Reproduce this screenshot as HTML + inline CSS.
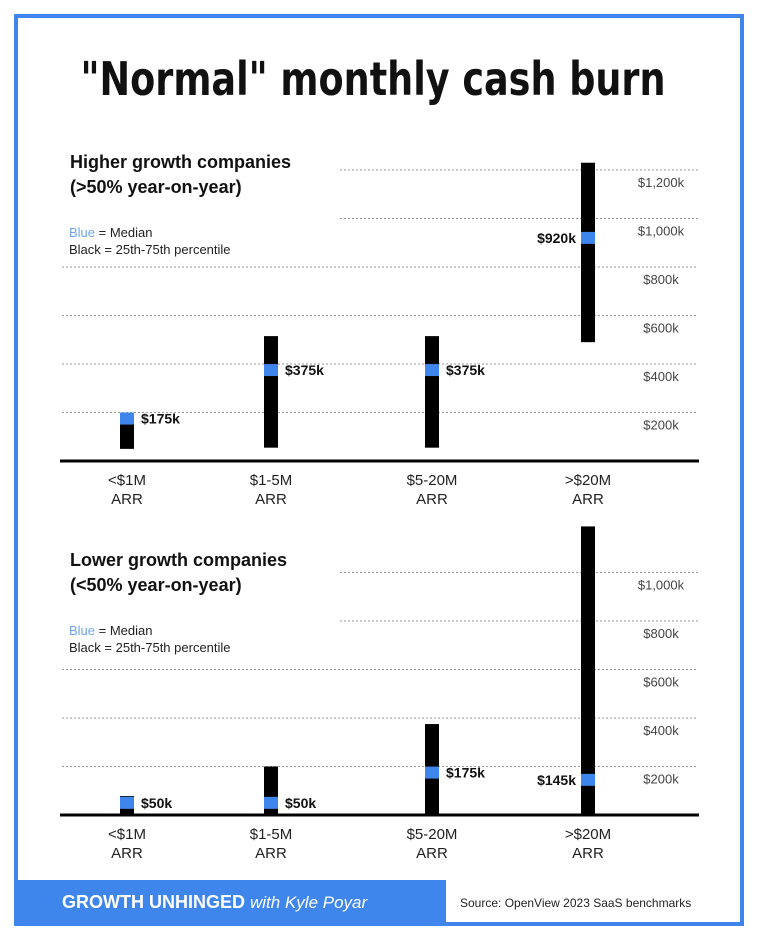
<!DOCTYPE html>
<html><head><meta charset="utf-8"><style>
body{margin:0;background:#fff;}
svg{display:block;font-family:"Liberation Sans",sans-serif;}
</style></head><body>
<svg id="c" width="758" height="952" viewBox="0 0 758 952">
<rect x="16" y="16" width="726" height="908" fill="#fff" stroke="#3f86ec" stroke-width="4"/>
<text x="373" y="95" text-anchor="middle" font-size="46" font-weight="bold" font-family="'DejaVu Sans',sans-serif" fill="#111" textLength="585" lengthAdjust="spacingAndGlyphs">"Normal" monthly cash burn</text>
<g id="top"></g><g id="bot"></g>
<rect x="16" y="880" width="430" height="46" fill="#3f86ec"/>
<text x="62" y="908" fill="#fff" font-size="18" font-weight="bold">GROWTH UNHINGED <tspan font-weight="normal" font-style="italic" font-size="17">with Kyle Poyar</tspan></text>
<text x="460" y="907" font-size="12" fill="#222">Source: OpenView 2023 SaaS benchmarks</text>
</svg>
<script>
const categories=["<$1M","$1-5M","$5-20M",">$20M"];
const hiLow=[50,55,55,490];
const hiHigh=[185,515,515,1230];
const hiMedian=[175,375,375,920];
const hiLabels=["$175k","$375k","$375k","$920k"];
const hiTicks=[200,400,600,800,1000,1200];
const hiTickLabels=["$200k","$400k","$600k","$800k","$1,000k","$1,200k"];
const loLow=[0,0,0,0];
const loHigh=[78,200,375,1190];
const loMedian=[50,50,175,145];
const loLabels=["$50k","$50k","$175k","$145k"];
const loTicks=[200,400,600,800,1000];
const loTickLabels=["$200k","$400k","$600k","$800k","$1,000k"];
const NS="http://www.w3.org/2000/svg";
const barX=[127,271,432,588];
function el(p,t,a){const e=document.createElementNS(NS,t);for(const k in a)e.setAttribute(k,a[k]);p.appendChild(e);return e;}
function panel(g,base,title1,title2,titleY,low,high,med,labels,ticks,tickLabels,labelLeft){
  const y=v=>base-v*0.2425;
  const t1=el(g,'text',{x:70,y:titleY,'font-size':18,'font-weight':'bold',fill:'#111'});t1.textContent=title1;
  
  
  const t2=el(g,'text',{x:70,y:titleY+25,'font-size':18,'font-weight':'bold',fill:'#111'});t2.textContent=title2;
  
  
  const l1=el(g,'text',{x:69,y:titleY+69,'font-size':13,fill:'#222'});
  l1.innerHTML='<tspan fill="#6fa4e8">Blue</tspan> = Median';
  
  
  const l2=el(g,'text',{x:69,y:titleY+86,'font-size':13,fill:'#222'});l2.textContent='Black = 25th-75th percentile';
  
  
  ticks.forEach((v,i)=>{
    const yy=y(v);
    const x0=(yy<titleY+60)?340:62;
    const ln=el(g,'line',{x1:x0,x2:698,y1:yy,y2:yy,stroke:'#999','stroke-width':1,'stroke-dasharray':'2,2'});
    
    
    const tl=el(g,'text',{x:661,y:yy+17,'text-anchor':'middle','font-size':13,fill:'#444'});tl.textContent=tickLabels[i];
    
    
  });
  const ax=el(g,'line',{x1:60,x2:699,y1:base,y2:base,stroke:'#000','stroke-width':3});
  
  
  categories.forEach((c,i)=>{
    const cx=barX[i];
    const b=el(g,'rect',{x:cx-7,y:y(high[i]),width:14,height:y(low[i])-y(high[i]),fill:'#000'});
    
    
    const m=el(g,'rect',{x:cx-7,y:y(med[i])-6,width:14,height:12,fill:'#3f86ec'});
    
    
    const left=labelLeft&&i===3;
    const vl=el(g,'text',{x:left?cx-12:cx+14,y:y(med[i])+5,'text-anchor':left?'end':'start','font-size':14,'font-weight':'bold',fill:'#111'});
    vl.textContent=labels[i];
    
    
    const c1=el(g,'text',{x:cx,y:base+24,'text-anchor':'middle','font-size':15,fill:'#222'});c1.textContent=c;
    
    
    const c2=el(g,'text',{x:cx,y:base+43,'text-anchor':'middle','font-size':15,fill:'#222'});c2.textContent='ARR';
    
    
  });
}
panel(document.getElementById('top'),461,'Higher growth companies','(>50% year-on-year)',168,hiLow,hiHigh,hiMedian,hiLabels,hiTicks,hiTickLabels,true);
panel(document.getElementById('bot'),815,'Lower growth companies','(<50% year-on-year)',566,loLow,loHigh,loMedian,loLabels,loTicks,loTickLabels,true);
</script>
</body></html>
